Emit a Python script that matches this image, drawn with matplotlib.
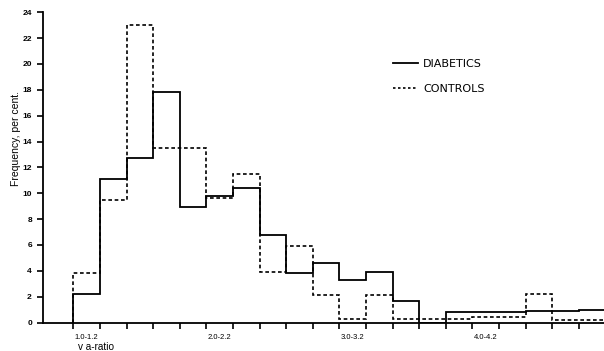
import matplotlib
matplotlib.use("Agg")
import matplotlib.pyplot as plt
import numpy as np
from matplotlib.lines import Line2D

# v a-ratio bins: 1.0-1.2, 1.2-1.4, ... , 4.8-5.0
bin_edges = [round(1.0 + 0.2 * i, 1) for i in range(21)]
diabetics = [2.2, 11.1, 12.7, 17.8, 8.9, 9.8, 10.4, 6.8, 3.8, 4.6,
             3.3, 3.9, 1.7, 0.0, 0.8, 0.8, 0.8, 0.9, 0.9, 1.0]
controls = [3.8, 9.5, 23.0, 13.5, 13.5, 9.6, 11.5, 3.9, 5.9, 2.1,
            0.3, 2.1, 0.3, 0.3, 0.3, 0.4, 0.4, 2.2, 0.2, 0.2]
tick_label_text = ["1.0-1.2", "2.0-2.2", "3.0-3.2", "4.0-4.2"]
tick_label_pos = [1.1, 2.1, 3.1, 4.1]
y_ticks = list(range(0, 25, 2))

plt.rcParams['font.family'] = ['Liberation Sans', 'DejaVu Sans']

fig = plt.figure(figsize=(6.04, 3.51), dpi=100)
ax = fig.add_axes([43 / 604, 1 - 322.5 / 351, (604 - 43) / 604, (322.5 - 12.3) / 351])

ax.stairs(diabetics, bin_edges, baseline=0, fill=False, color='black',
          linewidth=1.3, linestyle='-')
ax.stairs(controls, bin_edges, baseline=0, fill=False, color='black',
          linewidth=1.2, linestyle=(0, (2.2, 1.6)))

ax.set_xlim(0.772, 4.99)
ax.set_ylim(0, 24)

for s in ['top', 'right']:
    ax.spines[s].set_visible(False)
for s in ['left', 'bottom']:
    ax.spines[s].set_linewidth(1.3)

ax.set_xticks(bin_edges[:-1])
ax.set_xticklabels([])
ax.set_xticks(tick_label_pos, minor=True)
ax.set_xticklabels(tick_label_text, minor=True)
ax.tick_params(axis='x', which='major', direction='out', length=4, width=1.2)
ax.tick_params(axis='x', which='minor', length=0, labelsize=5.5, pad=8.5)

ax.set_yticks(y_ticks)
ax.set_yticklabels([str(v) for v in y_ticks])
ax.tick_params(axis='y', direction='out', length=4, width=1.2, labelsize=6,
               pad=4)
for lab in ax.get_yticklabels():
    lab.set_fontweight('bold')

ax.set_ylabel("Frequency, per cent.", fontsize=7.5)
ax.yaxis.set_label_coords((21 - 43) / 561, (322.5 - 139) / 310.2)

fig.text(78 / 604, 1 - 349.5 / 351, "v a-ratio", fontsize=7.2, ha='left',
         va='baseline')

handles = [Line2D([], [], color='black', linewidth=1.3, linestyle='-'),
           Line2D([], [], color='black', linewidth=1.2, linestyle=(0, (1.5, 1.5)))]
leg = ax.legend(handles, ["DIABETICS", "CONTROLS"], loc='upper left',
                bbox_to_anchor=(0.624, 0.849), frameon=False,
                prop={'family': 'DejaVu Sans', 'size': 8},
                handlelength=2.25, handletextpad=0.45, labelspacing=1.35,
                borderpad=0, borderaxespad=0)

fig.savefig("out.png", dpi=100)
